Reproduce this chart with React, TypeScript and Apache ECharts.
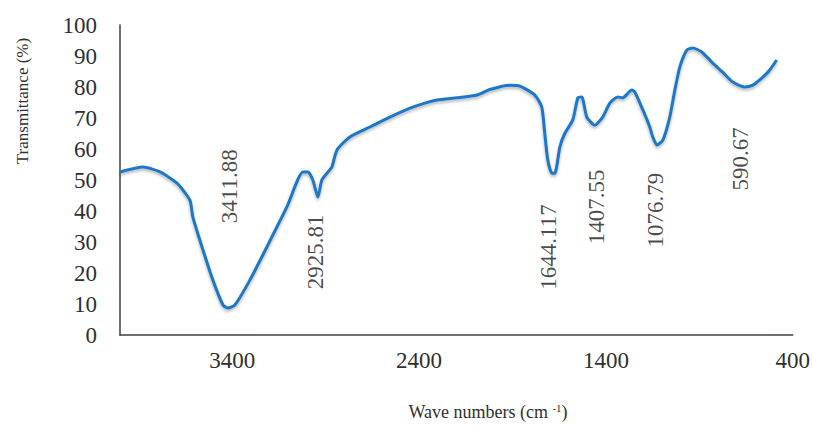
import React, { useEffect, useRef } from "react";
import * as echarts from "echarts";

// Wave number (cm-1) and transmittance (%)
const waveNumbers = [
  4000, 3877, 3786, 3695, 3626, 3610, 3556, 3503, 3449, 3422, 3385, 3305, 3214,
  3107, 3021, 2994, 2968, 2941, 2920, 2887, 2866, 2839, 2770, 2663, 2556,
  2433, 2304, 2197, 2090, 2021, 1914, 1860, 1780, 1743, 1727, 1711, 1689, 1673,
  1646, 1620, 1577, 1550, 1529, 1502, 1459, 1417, 1379, 1336, 1310, 1261, 1245,
  1202, 1165, 1149, 1127, 1095, 1058, 1031, 1004, 967, 935, 887, 828, 775, 721,
  657, 614, 560, 523, 486,
];
const transmittance = [
  52.6, 54.2, 52.6, 49, 43.5, 38, 27.4, 17.7, 9.7, 8.7, 9.7, 17.7, 28.4,
  41.3, 52.6, 52.6, 50, 44.5, 50, 52.6, 54.2, 59.7, 63.9, 67.1, 70.3,
  73.5, 75.8, 76.5, 77.4, 79.2, 80.6, 80.3, 77.4, 73.5, 65, 56.5, 52.2, 52.2,
  60.7, 65, 69.4, 76.5, 76.8, 70.3, 67.7, 70.3, 74.8, 76.8, 76.5, 79, 78.4,
  72.6, 67.1, 63.9, 61.3, 62.9, 70.3, 79, 86.5, 91.9, 92.6, 91.3, 87.7, 84.8, 81.6,
  80, 80.6, 83.2, 85.5, 88.7,
];

// Peak annotations: text and where it sits (data coordinates)
const peakLabels = ["3411.88", "2925.81", "1644.117", "1407.55", "1076.79", "590.67"];
const peakLabelX = [3412, 2952, 1705, 1448, 1133, 678];
const peakLabelY = [48, 26.8, 28.4, 41.3, 40.3, 56.8];

const xTicks = [400, 1400, 2400, 3400];
const yTicks = [0, 10, 20, 30, 40, 50, 60, 70, 80, 90, 100];

const FONT = "'Liberation Serif', 'Times New Roman', serif";

export default function App() {
  const ref = useRef<HTMLDivElement>(null);

  useEffect(() => {
    document.body.style.margin = "0";
    if (!ref.current) return;
    const chart = echarts.init(ref.current, undefined, { renderer: "svg" });
    const lineData = waveNumbers.map((w, i) => [w, transmittance[i]]);
    const labelData = peakLabels.map((t, i) => ({
      value: [peakLabelX[i], peakLabelY[i]],
      name: t,
    }));
    chart.setOption({
      animation: false,
      backgroundColor: "#ffffff",
      grid: { left: 120, right: 20, top: 25, bottom: 94 },
      xAxis: {
        type: "value",
        min: 400,
        max: 4000,
        interval: 1000,
        inverse: true,
        axisLine: { show: true, lineStyle: { color: "#404040", width: 1.5 } },
        axisTick: { show: false },
        splitLine: { show: false },
        axisLabel: {
          margin: 14,
          fontFamily: FONT,
          fontSize: 23,
          color: "#2f2f2f",
          formatter: (v: number) => (xTicks.includes(v) ? String(v) : ""),
        },
      },
      yAxis: {
        type: "value",
        min: 0,
        max: 100,
        interval: 10,
        axisLine: { show: true, lineStyle: { color: "#404040", width: 1.5 } },
        axisTick: { show: false },
        splitLine: { show: false },
        axisLabel: {
          margin: 23,
          fontFamily: FONT,
          fontSize: 23,
          color: "#2f2f2f",
          formatter: (v: number) => (yTicks.includes(v) ? String(v) : ""),
        },
      },
      series: [
        {
          type: "line",
          data: lineData,
          showSymbol: false,
          smooth: 0.2,
          lineStyle: {
            color: "#1f77c8",
            width: 3,
            shadowColor: "rgba(0,0,0,0.3)",
            shadowBlur: 3,
            shadowOffsetY: 2,
          },
          z: 2,
        },
        {
          type: "scatter",
          data: labelData,
          symbolSize: 0,
          silent: true,
          z: 3,
          label: {
            show: true,
            position: "inside",
            rotate: 90,
            formatter: (p: any) => p.name,
            fontFamily: FONT,
            fontSize: 23,
            color: "#1a1a1a",
          },
        },
      ],
      graphic: [
        {
          type: "text",
          x: 22,
          y: 101,
          rotation: Math.PI / 2,
          style: {
            text: "Transmittance (%)",
            fontFamily: FONT,
            fontSize: 17,
            fill: "#2f2f2f",
            align: "center",
            verticalAlign: "middle",
          },
        },
        {
          type: "text",
          x: 488,
          y: 412,
          style: {
            text: "Wave numbers (cm {sup|-1})",
            fontFamily: FONT,
            fontSize: 18,
            fill: "#2f2f2f",
            align: "center",
            verticalAlign: "middle",
            rich: {
              sup: {
                fontFamily: FONT,
                fontSize: 11,
                fill: "#2f2f2f",
                verticalAlign: "top",
                padding: [0, 0, 8, 0],
              },
            },
          },
        },
      ],
    });
    return () => chart.dispose();
  }, []);

  return <div ref={ref} style={{ width: 813, height: 429 }} />;
}
